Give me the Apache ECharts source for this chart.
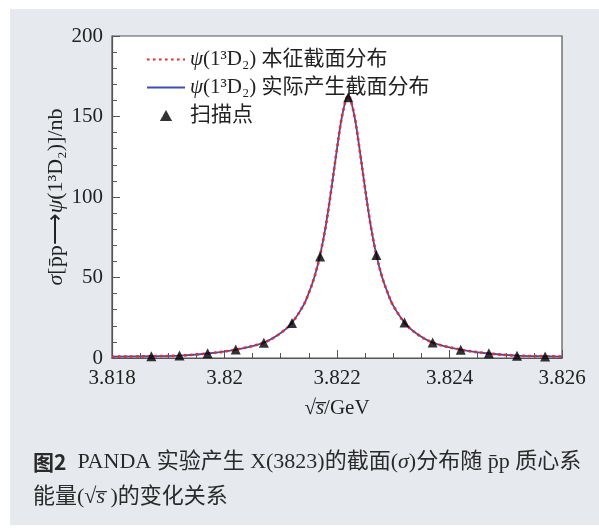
<!DOCTYPE html>
<html>
<head>
<meta charset="utf-8">
<script src="https://cdn.jsdelivr.net/npm/echarts@6/dist/echarts.min.js"></script>
<style>
html,body{margin:0;padding:0;background:#fff;}
#main{width:599px;height:529px;}
</style>
</head>
<body>
<div id="main"></div>
<script>
// Energy grid (GeV) for the cross-section curves
const energyGrid = [3.818, 3.8187, 3.8192, 3.8197, 3.8202, 3.8207, 3.821, 3.8212, 3.8214, 3.8215, 3.8216, 3.8217, 3.8218, 3.8219, 3.822, 3.8221, 3.8222,
  3.8223, 3.8224, 3.8225, 3.8226, 3.8227, 3.8228, 3.8229, 3.823, 3.8232, 3.8234, 3.8237, 3.8242, 3.8247, 3.8252, 3.8257, 3.826];
// Intrinsic cross section (nb)
const intrinsicSigma = [0.8, 1.1, 1.5, 2.8, 5.2, 9.6, 15.5, 22, 32.5, 40.5, 50.5, 64, 82, 105, 130, 152, 163,
  152, 130, 105, 82, 64, 50.5, 40.5, 32.5, 22, 15.5, 9.6, 5.2, 2.8, 1.5, 1.1, 0.9];
// Actually produced cross section (nb)
const producedSigma = [0.8, 1.1, 1.5, 2.8, 5.2, 9.6, 15.5, 22, 32.5, 40.5, 50.5, 64, 82, 105, 130, 152, 163,
  152, 130, 105, 82, 64, 50.5, 40.5, 32.5, 22, 15.5, 9.6, 5.2, 2.8, 1.5, 1.1, 0.9];
// Scan points
const scanEnergy = [3.8187, 3.8192, 3.8197, 3.8202, 3.8207, 3.8212, 3.8217, 3.8222, 3.8227, 3.8232, 3.8237, 3.8242, 3.8247, 3.8252, 3.8257];
const scanSigma = [1.1, 1.5, 2.9, 5.3, 9.5, 21.8, 63, 162, 64, 22, 9.6, 5.2, 3.0, 1.4, 0.9];
// Legend names
const seriesNames = ['ψ(1³D₂) 本征截面分布', 'ψ(1³D₂) 实际产生截面分布', '扫描点'];

const serif = "'Liberation Serif', 'Noto Sans CJK SC', serif";
const chart = echarts.init(document.getElementById('main'), null, {renderer: 'canvas'});

const zip = (xs, ys) => xs.map((x, i) => [x, ys[i]]);
const italicPsi = s => s.replace('ψ', '{i|ψ}');

chart.setOption({
  animation: false,
  backgroundColor: '#ffffff',
  graphic: [
    {type: 'rect', z: -10, silent: true, shape: {x: 10, y: 9, width: 589, height: 516}, style: {fill: '#e6e9ed'}},
    {type: 'text', left: 33, top: 451, style: {
      text: '{b|图2}  PANDA 实验产生 X(3823)的截面({i|σ})分布随 p̄p 质心系',
      font: "22px " + serif, fill: '#2a2a2a',
      rich: {
        b: {fontFamily: "'Noto Sans CJK SC', sans-serif", fontWeight: 'bold', fontSize: 21, fill: '#2a2a2a'},
        i: {fontStyle: 'italic', fontFamily: serif, fontSize: 22, fill: '#2a2a2a'}
      }
    }},
    {type: 'text', left: 33, top: 486, style: {
      text: '能量(√{i|s̅} )的变化关系',
      font: "22px " + serif, fill: '#2a2a2a',
      rich: {i: {fontStyle: 'italic', fontFamily: serif, fontSize: 22, fill: '#2a2a2a'}}
    }}
  ],
  grid: {left: 112, top: 36, right: 37, bottom: 171, show: true, backgroundColor: '#ffffff', borderColor: '#555', borderWidth: 1.2},
  legend: {
    orient: 'vertical', left: 141, top: 44, itemWidth: 38, itemHeight: 11, itemGap: 7,
    symbolKeepAspect: true,
    data: [
      {name: seriesNames[0], itemStyle: {opacity: 0}},
      {name: seriesNames[1], itemStyle: {opacity: 0}},
      {name: seriesNames[2], icon: 'path://M5,0L10,9L0,9Z'}
    ],
    formatter: italicPsi,
    textStyle: {fontFamily: serif, fontSize: 21, color: '#222', lineHeight: 21,
      rich: {i: {fontFamily: serif, fontStyle: 'italic', fontSize: 21, color: '#222', lineHeight: 21}}}
  },
  xAxis: {
    type: 'value', min: 3.818, max: 3.826, interval: 0.002,
    name: '√{i|s̅}/GeV', nameLocation: 'middle', nameGap: 40, nameMoveOverlap: false,
    nameTextStyle: {fontFamily: serif, fontSize: 21, color: '#222',
      rich: {i: {fontFamily: serif, fontStyle: 'italic', fontSize: 21, color: '#222'}}},
    axisLine: {lineStyle: {color: '#555', width: 1.2}},
    axisTick: {inside: true, length: 8, lineStyle: {color: '#555'}},
    minorTick: {show: true, splitNumber: 4, length: 5, lineStyle: {color: '#555'}},
    axisLabel: {fontFamily: serif, fontSize: 21, color: '#222', margin: 10},
    splitLine: {show: false}
  },
  yAxis: {
    type: 'value', min: 0, max: 200, interval: 50,
    name: '{i|σ}[p̄p⟶{i|ψ}(1³D₂)]/nb', nameLocation: 'middle', nameGap: 45, nameMoveOverlap: false,
    nameTextStyle: {fontFamily: serif, fontSize: 22, color: '#222',
      rich: {i: {fontFamily: serif, fontStyle: 'italic', fontSize: 22, color: '#222'}}},
    axisLine: {lineStyle: {color: '#555', width: 1.2}},
    axisTick: {inside: true, length: 8, lineStyle: {color: '#555'}},
    minorTick: {show: true, splitNumber: 5, length: 5, lineStyle: {color: '#555'}},
    axisLabel: {fontFamily: serif, fontSize: 21, color: '#222', margin: 9},
    splitLine: {show: false}
  },
  series: [
    {
      name: seriesNames[1], type: 'line', data: zip(energyGrid, producedSigma),
      smooth: 0.35, showSymbol: false, symbol: 'none', z: 2,
      lineStyle: {color: '#3b4fb3', width: 1.8}, itemStyle: {color: '#3b4fb3'}
    },
    {
      name: seriesNames[0], type: 'line', data: zip(energyGrid, intrinsicSigma),
      smooth: 0.35, showSymbol: false, symbol: 'none', z: 3,
      lineStyle: {color: '#f0282a', width: 2.6, type: [2.6, 3.4]}, itemStyle: {color: '#f0282a'}
    },
    {
      name: seriesNames[2], type: 'scatter', data: zip(scanEnergy, scanSigma),
      symbol: 'triangle', symbolSize: 10, z: 4,
      itemStyle: {color: '#000'}
    }
  ]
});
</script>
</body>
</html>
